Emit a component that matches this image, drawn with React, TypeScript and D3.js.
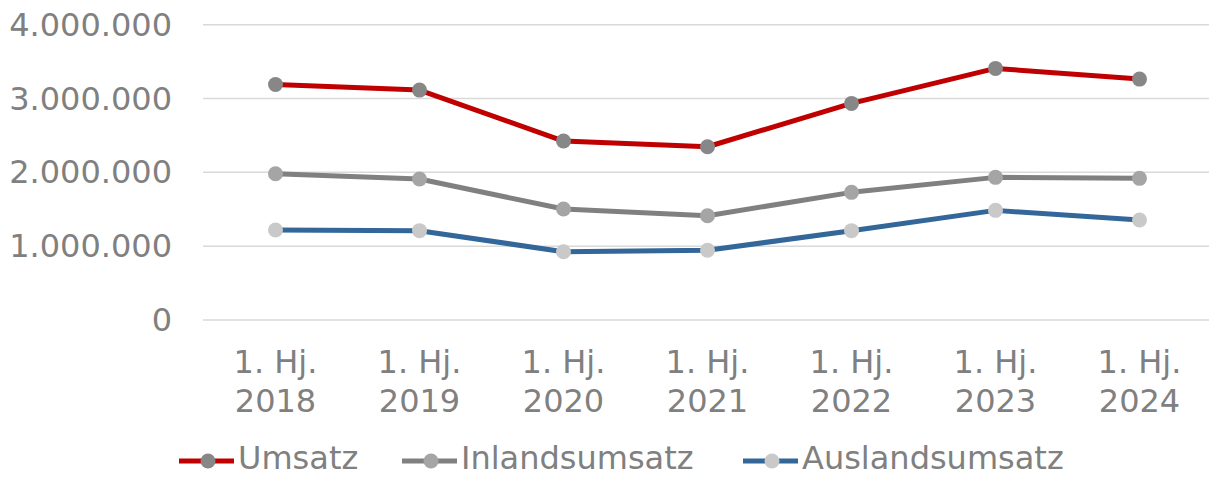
import * as d3 from "d3"

const categories = ["2018", "2019", "2020", "2021", "2022", "2023", "2024"]
const umsatz = [3190000, 3114000, 2424000, 2347000, 2934000, 3408000, 3263000]
const inlandsumsatz = [1981000, 1909000, 1503000, 1413000, 1729000, 1932000, 1919000]
const auslandsumsatz = [1219000, 1210000, 925000, 944000, 1210000, 1485000, 1354000]
const yTicks = [0, 1000000, 2000000, 3000000, 4000000]

const series = [
  { name: "Umsatz", values: umsatz, line: "#C00000", marker: "#878787" },
  { name: "Inlandsumsatz", values: inlandsumsatz, line: "#808080", marker: "#A5A5A5" },
  { name: "Auslandsumsatz", values: auslandsumsatz, line: "#336699", marker: "#C9C9C9" },
]

const width = 1209
const height = 477
const textColor = "#808080"
const font = "'DejaVu Sans', Verdana, sans-serif"

export default function App() {
  const x = d3.scalePoint<string>().domain(categories).range([275.5, 1139.5])
  const y = d3.scaleLinear().domain([0, 4000000]).range([320, 24.7])
  const fmt = (v: number) => d3.format(",")(v).replace(/,/g, ".")

  const line = d3
    .line<number>()
    .x((_, i) => x(categories[i])!)
    .y((d) => y(d))

  // legend entries: start of the line symbol
  const legendX = [179, 402, 743]

  return (
    <svg width={width} height={height} style={{ position: "absolute", left: 0, top: 0, background: "#fff" }}>
      {/* gridlines */}
      {yTicks.map((t) => (
        <line key={t} x1={203} x2={width} y1={y(t)} y2={y(t)} stroke="#D9D9D9" strokeWidth={1.5} />
      ))}
      {/* y labels */}
      {yTicks.map((t) => (
        <text key={t} x={172} y={y(t) + 11} textAnchor="end" fontSize={32} fill={textColor} fontFamily={font}>
          {fmt(t)}
        </text>
      ))}
      {/* x labels */}
      {categories.map((c) => (
        <text key={c} x={x(c)!} textAnchor="middle" fontSize={32} fill={textColor} fontFamily={font}>
          <tspan x={x(c)!} y={373}>1. Hj.</tspan>
          <tspan x={x(c)!} y={412}>{c}</tspan>
        </text>
      ))}
      {/* series */}
      {series.map((s) => (
        <g key={s.name}>
          <path d={line(s.values)!} fill="none" stroke={s.line} strokeWidth={5} strokeLinejoin="round" />
          {s.values.map((v, i) => (
            <circle key={i} cx={x(categories[i])!} cy={y(v)} r={7.5} fill={s.marker} />
          ))}
        </g>
      ))}
      {/* legend */}
      {series.map((s, i) => (
        <g key={s.name} transform={`translate(${legendX[i]},461)`}>
          <line x1={0} x2={55} y1={0} y2={0} stroke={s.line} strokeWidth={5} />
          <circle cx={29} cy={0} r={7.5} fill={s.marker} />
          <text x={59} y={8} fontSize={32} fill={textColor} fontFamily={font}>
            {s.name}
          </text>
        </g>
      ))}
    </svg>
  )
}
